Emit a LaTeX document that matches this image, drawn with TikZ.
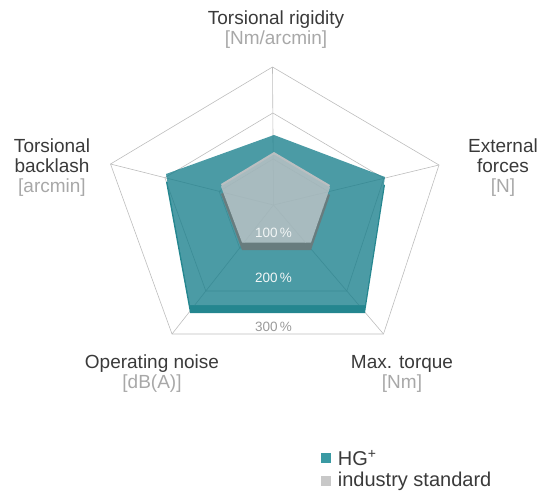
\documentclass[tikz,border=0pt]{standalone}
\usepackage{fontspec}
\setmainfont{Liberation Sans}
\usepackage{tikz}
\usetikzlibrary{positioning,calc}
\definecolor{hgTeal}{HTML}{4B9BA5}
\definecolor{hgTealDk}{HTML}{24868F}
\definecolor{hgTealLine}{HTML}{3C8C96}
\definecolor{stdGrey}{HTML}{A8BBBF}
\definecolor{stdRim}{HTML}{BBBFC1}
\definecolor{stdGreyDk}{HTML}{687C7E}
\definecolor{stdGreyLine}{HTML}{A3B6BA}
\definecolor{gridGrey}{HTML}{BDBDBD}
\definecolor{txtDark}{HTML}{3A3A3A}
\definecolor{txtUnit}{HTML}{A8A8A8}
\definecolor{pctWhite}{HTML}{F2F6F6}
\definecolor{pctGrey}{HTML}{999999}
\definecolor{legTeal}{HTML}{3A9AA3}
\definecolor{legGrey}{HTML}{C8C8C8}
\tikzset{
  gridline/.style={draw=gridGrey, line width=0.6pt},
  axlabel/.style={font=\fontsize{19}{22}\selectfont, text=txtDark, inner sep=0pt, anchor=base},
  unitlabel/.style={font=\fontsize{19}{22}\selectfont, text=txtUnit, inner sep=0pt, anchor=base},
  pctlabel/.style={font=\fontsize{13.5}{16}\selectfont, inner sep=0pt, anchor=base},
  legbox/.style={minimum size=10pt, inner sep=0pt},
  legtext/.style={font=\fontsize{20}{23}\selectfont, text=txtDark, inner sep=0pt},
}
% spider grid: three levels and five axes
\newcommand{\drawgrid}[1]{%
  \foreach \lvl in {1,2,3}
    \draw[#1] ($(ctr)!{\lvl/3}!(axT)$) -- ($(ctr)!{\lvl/3}!(axR)$) -- ($(ctr)!{\lvl/3}!(axBR)$)
      -- ($(ctr)!{\lvl/3}!(axBL)$) -- ($(ctr)!{\lvl/3}!(axL)$) -- cycle;
  \foreach \ax in {axT,axR,axBR,axBL,axL}
    \draw[#1] (ctr) -- (\ax);
}
\begin{document}
\begin{tikzpicture}[x=1pt, y=-1pt]
\useasboundingbox (0,0) rectangle (552,493);
%% Grid
\coordinate (ctr) at (273.5,205);
\coordinate (axT) at (272.5,67);
\coordinate (axR) at (439,165);
\coordinate (axBR) at (383.5,334);
\coordinate (axBL) at (172,334);
\coordinate (axL) at (110.5,164);
\drawgrid{gridline}
%% HG+ (extruded)
\fill[hgTealDk, yshift=-8pt] (274,135) -- (385,177) -- (365,305) -- (190,305) -- (166,174) -- cycle;
\fill[hgTeal] (274,135) -- (385,177) -- (365,305) -- (190,305) -- (166,174) -- cycle;
\begin{scope}
  \clip (274,135) -- (385,177) -- (365,305) -- (190,305) -- (166,174) -- cycle;
  \drawgrid{draw=hgTealLine, line width=0.6pt}
\end{scope}
%% industry standard (extruded)
\fill[stdGreyDk, yshift=-10pt] (274,152) -- (330,185) -- (311,240) -- (242,240) -- (221,184) -- cycle;
\fill[stdRim] (274,152) -- (330,185) -- (311,240) -- (242,240) -- (221,184) -- cycle;
\fill[stdGrey, yshift=-2.5pt] (274,152) -- (330,185) -- (311,240) -- (242,240) -- (221,184) -- cycle;
\begin{scope}
  \clip[yshift=-2.5pt] (274,152) -- (330,185) -- (311,240) -- (242,240) -- (221,184) -- cycle;
  \drawgrid{draw=stdGreyLine, line width=0.5pt}
\end{scope}
%% Level labels
\node[pctlabel, text=pctWhite] (p100) at (273.5,237) {100\,\%};
\node[pctlabel, text=pctWhite] (p200) at (273.5,282) {200\,\%};
\node[pctlabel, text=pctGrey] (p300) at (273.5,331) {300\,\%};
%% Axis labels
\node[axlabel] (rig) at (276,24) {Torsional rigidity};
\node[unitlabel] (rigU) at ([yshift=-20pt]rig.base) {[Nm/arcmin]};
\node[axlabel] (ext) at (503,152) {External};
\node[axlabel] (extB) at ([yshift=-20pt]ext.base) {forces};
\node[unitlabel] (extU) at ([yshift=-20pt]extB.base) {[N]};
\node[axlabel] (trq) at (402,368) {Max. torque};
\node[unitlabel] (trqU) at ([yshift=-20pt]trq.base) {[Nm]};
\node[axlabel] (noi) at (152,368) {Operating noise};
\node[unitlabel] (noiU) at ([yshift=-20pt]noi.base) {[dB(A)]};
\node[axlabel] (bkl) at (52,152) {Torsional};
\node[axlabel] (bklB) at ([yshift=-20pt]bkl.base) {backlash};
\node[unitlabel] (bklU) at ([yshift=-20pt]bklB.base) {[arcmin]};
%% Legend
\node[legbox, fill=legTeal] (legHG) at (325.5,458) {};
\node[legtext, right=7pt of legHG] (legHGt) {HG\textsuperscript{+}};
\node[legbox, fill=legGrey] (legStd) at (325.5,481) {};
\node[legtext, right=7pt of legStd] (legStdt) {industry standard};
\end{tikzpicture}
\end{document}
